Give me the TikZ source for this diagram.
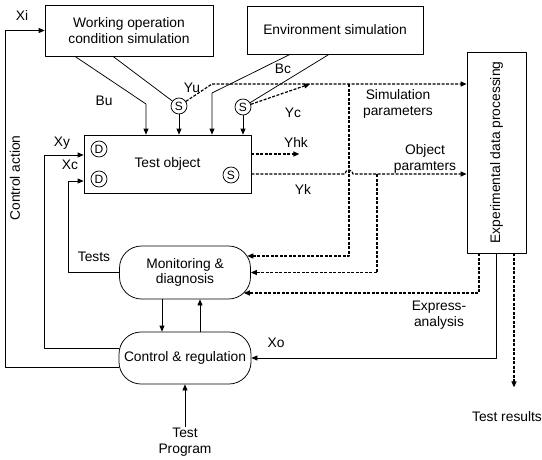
\documentclass[tikz,border=0pt]{standalone}
\usepackage{fontspec}
\setmainfont{Liberation Sans}
\usetikzlibrary{arrows.meta,calc}

\begin{document}
\begin{tikzpicture}[x=1pt, y=-1pt, font=\fontsize{13.8}{15.5}\selectfont, line width=0.75pt, line join=round, >={Triangle[length=6pt,width=5pt]},
	blk/.style={draw, inner sep=2pt, align=center},
	pill/.style={blk, rounded corners=22pt, minimum width=131pt, minimum height=53pt},
	sens/.style={draw, circle, inner sep=0pt, minimum size=16pt, font=\fontsize{12}{12}\selectfont},
	darr/.style={->, line width=1.2pt, dash pattern=on 3pt off 1.5pt}]
	\useasboundingbox (0,0) rectangle (542,459);
	% blocks
	\node[blk, minimum width=168pt, minimum height=51pt] (work) at (129,30.5) {Working operation\\condition simulation};
	\node[blk, minimum width=176pt, minimum height=48pt] (env) at (335,30) {Environment simulation};
	\node[blk, minimum width=59pt, minimum height=201pt] (exp) at (496.5,152.5) {};
	\node[rotate=90] at (exp) {Experimental data processing};
	\node[blk, minimum width=167pt, minimum height=58pt] (obj) at (167.5,164) {Test object};
	\node[pill] (mon) at (185,272.5) {Monitoring \&\\diagnosis};
	\node[pill, minimum width=132pt, minimum height=52pt] (ctrl) at (185,358) {Control \& regulation};
	\node[align=center, inner sep=1pt] (prog) at (185,442) {Test\\Program};
	% sensors and drives
	\node[sens] (d1) at (99,149) {D};
	\node[sens] (d2) at (99,179) {D};
	\node[sens] (s3) at (231,175) {S};
	\node[sens] (s1) at (179,106) {S};
	\node[sens] (s2) at (243,107) {S};
	\coordinate (bu) at (146,104);
	\coordinate (bc) at (212,93);
	\coordinate (yu) at (212,84);
	\coordinate (yc) at (310,84);
	\coordinate (hop) at (349,174);
	% control loops
	\draw[->] ([yshift=-9pt]ctrl.west) -| ([xshift=-39pt]work.west) -- (work.west);
	\draw[->] ([yshift=10pt]ctrl.west) -| ([xshift=-39pt,yshift=9pt]obj.west) -- ([yshift=9pt]obj.west);
	\draw[->] (mon.west) -| ([xshift=-15pt,yshift=-17pt]obj.west) -- ([yshift=-17pt]obj.west);
	% simulation inputs
	\draw[->] ([xshift=-54pt]work.south) -- (bu) -- (bu |- obj.north);
	\draw ([xshift=-16pt]work.south) -- (s1);
	\draw[->] (s1) -- (s1 |- obj.north);
	\draw[->] ([xshift=-45pt]env.south) -- (bc) -- (bc |- obj.north);
	\draw ([xshift=-6pt]env.south) -- (s2);
	\draw[->] (s2) -- (s2 |- obj.north);
	% measured parameters
	\draw[darr] (s1) -- (yu) -- (yu -| exp.west);
	\draw[darr] (s2) -- (yc);
	\draw[darr] ([yshift=10pt]obj.east) -- ++(48,0);
	\draw[darr] ([yshift=-10pt]obj.east) -- ([xshift=-4pt]hop) arc[start angle=180, end angle=0, radius=4pt] -- (hop -| exp.west);
	\draw[darr] (yu -| hop) |- ($(mon.east)+(-3.6,-16.5)$);
	\draw[darr] ([xshift=28pt]hop) |- (mon.east);
	\draw[darr] ([xshift=-17.5pt]exp.south) |- ($(mon.east)+(-7,20.5)$);
	\draw[->] (exp.south) |- (ctrl.east);
	\draw[darr] ([xshift=17.5pt]exp.south) -- ++(0,134);
	\draw[->] ([xshift=-23pt]mon.south) -- ([xshift=-23pt]ctrl.north);
	\draw[->] ([xshift=15pt]ctrl.north) -- ([xshift=15pt]mon.south);
	\draw[->] (prog.north) -- (ctrl.south);
	% labels
	\node at (22,15) {Xi};
	\node[rotate=90] at (15,178) {Control action};
	\node at (62,143) {Xy};
	\node at (70,165) {Xc};
	\node at (94,257) {Tests};
	\node at (104,101) {Bu};
	\node at (192,88) {Yu};
	\node at (283,69) {Bc};
	\node at (293,113) {Yc};
	\node at (296,142) {Yhk};
	\node at (303,189) {Yk};
	\node[align=center] at (398,104) {Simulation\\parameters};
	\node[align=center] at (425,159) {Object\\paramters};
	\node[align=center] at (439,315) {Express-\\analysis};
	\node at (276,343) {Xo};
	\node at (507,417) {Test results};
\end{tikzpicture}
\end{document}
